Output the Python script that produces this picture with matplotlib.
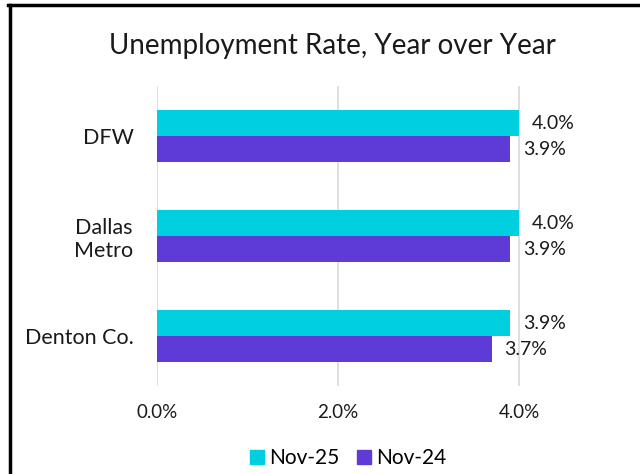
import matplotlib
matplotlib.use("Agg")
import matplotlib.pyplot as plt
from matplotlib.lines import Line2D
import numpy as np

categories = ["DFW", "Dallas\nMetro", "Denton Co."]
series_names = ["Nov-25", "Nov-24"]
nov25 = [4.0, 4.0, 3.9]
nov24 = [3.9, 3.9, 3.7]
xticks = [0.0, 2.0, 4.0]
title = "Unemployment Rate, Year over Year"

c25 = "#00CFE0"
c24 = "#5E3BD6"

plt.rcParams['font.family'] = ['Lato', 'DejaVu Sans']

fig = plt.figure(figsize=(6.4, 4.74), dpi=100)
W, H = 640, 474
ax = fig.add_axes([157 / W, 1 - 386 / H, (560 - 157) / W, 300 / H])

y = np.arange(len(categories))
h = 0.26
b1 = ax.barh(y - h / 2, nov25, height=h, color=c25, label=series_names[0], zorder=3)
b2 = ax.barh(y + h / 2, nov24, height=h, color=c24, label=series_names[1], zorder=3)
ax.set_ylim(len(categories) - 0.5, -0.5)
ax.set_xlim(0, 4.45)
ax.set_yticks(y)
ax.set_yticklabels(categories, fontsize=15.5, multialignment='center', color='#1a1a1a')
ax.set_xticks(xticks)
ax.set_xticklabels([f"{v:.1f}%" for v in xticks], fontsize=13.5, color='#1a1a1a')
ax.tick_params(axis='both', length=0)
ax.tick_params(axis='x', pad=13)
ax.tick_params(axis='y', pad=17)
for s in ax.spines.values():
    s.set_visible(False)
ax.grid(axis='x', color='#D9D9D9', linewidth=1.2, zorder=0)
ax.set_axisbelow(True)

for bars, vals in ((b1, nov25), (b2, nov24)):
    ax.bar_label(bars, labels=[f"{v:.1f}%" for v in vals], padding=9, fontsize=14, color='#1a1a1a')

fig.text(332 / W, 1 - 46 / H, title, ha='center', va='center', fontsize=20, color='#1a1a1a')

handles = [Line2D([], [], marker='s', linestyle='none', markersize=10, color=c) for c in (c25, c24)]
fig.legend(handles, series_names, loc='center', bbox_to_anchor=(347 / W, 1 - 458 / H), ncol=2,
           frameon=False, fontsize=15, handletextpad=0.15, columnspacing=0.7, handlelength=0.9)

# frame lines (top and left) like reference
fig.add_artist(Line2D([8 / W, 1], [1 - 5 / H, 1 - 5 / H], color='black', linewidth=2.5, transform=fig.transFigure))
fig.add_artist(Line2D([9.5 / W, 9.5 / W], [0, 1 - 5 / H], color='black', linewidth=2.5, transform=fig.transFigure))

fig.savefig("out.png", dpi=100)
